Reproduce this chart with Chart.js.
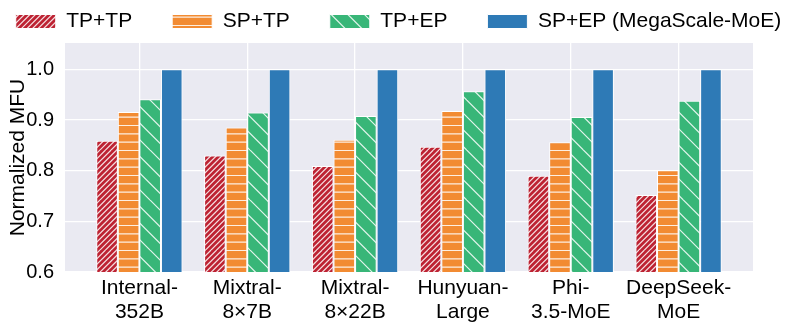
<!DOCTYPE html>
<html>
<head>
<meta charset="utf-8">
<script src="https://cdn.jsdelivr.net/npm/chart.js@4/dist/chart.umd.min.js"></script>
<style>
  html, body { margin: 0; padding: 0; background: #fff; }
  #wrap { width: 797px; height: 326px; }
</style>
</head>
<body>
<div id="wrap"><canvas id="mfu" width="797" height="326"></canvas></div>
<script>
let models = [['Internal-', '352B'], ['Mixtral-', '8×7B'], ['Mixtral-', '8×22B'], ['Hunyuan-', 'Large'], ['Phi-', '3.5-MoE'], ['DeepSeek-', 'MoE']]
let tp_tp = [0.859, 0.830, 0.809, 0.847, 0.790, 0.752]
let sp_tp = [0.916, 0.885, 0.861, 0.918, 0.856, 0.801]
let tp_ep = [0.941, 0.915, 0.908, 0.957, 0.906, 0.938]
let sp_ep = [1.0, 1.0, 1.0, 1.0, 1.0, 1.0]
let y_ticks = [0.6, 0.7, 0.8, 0.9, 1.0]

let font = 'Liberation Sans, Arial, sans-serif'

// hatch patterns like matplotlib '///', '--', '\'
function hatch(bg, kind, n) {
    let c = document.createElement('canvas')
    c.width = 50
    c.height = 50
    let ctx = c.getContext('2d')
    ctx.fillStyle = bg
    ctx.fillRect(0, 0, 50, 50)
    if (kind) {
        ctx.strokeStyle = 'rgba(255,255,255,0.85)'
        ctx.lineWidth = 1.2
        let step = 50 / n
        ctx.beginPath()
        for (let k = -2 * n; k <= 3 * n; k++) {
            let c0 = k * step
            if (kind === '/') { ctx.moveTo(c0 - 50, 100); ctx.lineTo(c0 + 50, 0) }
            if (kind === '\\') { ctx.moveTo(c0 - 50, -50); ctx.lineTo(c0 + 50, 50) }
            if (kind === '-' && c0 >= 0 && c0 < 50) { ctx.moveTo(0, c0 + 0.5); ctx.lineTo(50, c0 + 0.5) }
        }
        ctx.stroke()
    }
    return ctx.createPattern(c, 'repeat')
}

function toPoints(arr) {
    return arr.map((v, i) => ({ x: i, y: v }))
}

// legend on one row across the whole canvas, chart area starts at y=43
let legendFix = {
    id: 'legendFix',
    beforeUpdate(chart) {
        let lg = chart.legend
        if (!lg || lg._fixed) return
        lg._fixed = true
        let fit = lg.fit
        lg.fit = function () {
            this.maxWidth = 3000
            fit.call(this)
            this.width = chart.width
            this.height = 43
        }
        let draw = lg.draw
        lg.draw = function () {
            let t = this.top, l = this.left, r = this.right, w = this.width
            this.top = t - 29
            this.left = -40
            this.right = chart.width + 40
            this.width = chart.width + 80
            draw.call(this)
            this.top = t
            this.left = l
            this.right = r
            this.width = w
        }
    }
}

let bgPlot = {
    id: 'bgPlot',
    beforeDraw(chart) {
        let a = chart.chartArea
        chart.ctx.save()
        chart.ctx.fillStyle = '#eaeaf2'
        chart.ctx.fillRect(a.left, a.top, a.right - a.left, a.bottom - a.top)
        chart.ctx.restore()
    }
}

let datasets = [
    { label: 'TP+TP', data: toPoints(tp_tp), backgroundColor: hatch('#bd2232', '/', 9) },
    { label: 'SP+TP', data: toPoints(sp_tp), backgroundColor: hatch('#f28b32', '-', 6) },
    { label: 'TP+EP', data: toPoints(tp_ep), backgroundColor: hatch('#38b678', '\\', 3) },
    { label: 'SP+EP (MegaScale-MoE)', data: toPoints(sp_ep), backgroundColor: '#2e7ab6' }
]
for (let d of datasets) {
    d.borderColor = '#ffffff'
    d.borderWidth = 1
    d.borderSkipped = false
    d.categoryPercentage = 0.8
    d.barPercentage = 1.0
}

new Chart(document.getElementById('mfu'), {
    type: 'bar',
    data: { datasets: datasets },
    plugins: [legendFix, bgPlot],
    options: {
        responsive: false,
        animation: false,
        layout: { padding: { left: 0, right: 44, top: 0, bottom: 0 } },
        plugins: {
            tooltip: { enabled: false },
            legend: {
                position: 'top',
                labels: {
                    boxWidth: 40,
                    boxHeight: 14,
                    padding: 40,
                    color: '#000',
                    font: { family: font, size: 21, lineHeight: 1 }
                }
            }
        },
        scales: {
            x: {
                type: 'linear',
                offset: false,
                min: -0.69,
                max: 5.69,
                afterBuildTicks: axis => { axis.ticks = models.map((m, i) => ({ value: i })) },
                afterFit: axis => { axis.height = 54 },
                grid: { color: '#ffffff', lineWidth: 1.3, drawTicks: false, offset: false },
                border: { display: false },
                ticks: {
                    autoSkip: false,
                    maxRotation: 0,
                    padding: 4,
                    color: '#000',
                    font: { family: font, size: 21, lineHeight: 1.15 },
                    callback: v => models[v] || ''
                }
            },
            y: {
                min: 0.6,
                max: 1.052,
                afterBuildTicks: axis => { axis.ticks = y_ticks.map(v => ({ value: v })) },
                afterFit: axis => { axis.width = 65 },
                grid: { color: '#ffffff', lineWidth: 1.3, drawTicks: false },
                border: { display: false },
                ticks: {
                    padding: 11,
                    color: '#000',
                    font: { family: font, size: 20 },
                    callback: v => v.toFixed(1)
                },
                title: {
                    display: true,
                    text: 'Normalized MFU',
                    color: '#000',
                    padding: { top: 6, bottom: 0 },
                    font: { family: font, size: 21 }
                }
            }
        }
    }
});
</script>
</body>
</html>
